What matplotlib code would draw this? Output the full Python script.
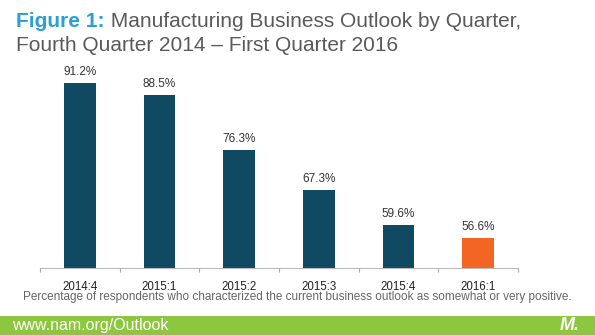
import matplotlib
matplotlib.use('Agg')
import matplotlib.pyplot as plt
from matplotlib.patches import Rectangle

plt.rcParams['font.family'] = ['Liberation Sans', 'DejaVu Sans']

# data
quarters = ['2014:4', '2015:1', '2015:2', '2015:3', '2015:4', '2016:1']
positive_pct = [91.2, 88.5, 76.3, 67.3, 59.6, 56.6]
bar_colors = ['#0f4a62'] * 5 + ['#f26522']

fig = plt.figure(figsize=(5.95, 3.35), dpi=100)
fig.patch.set_facecolor('white')

# bars
ax = fig.add_axes([40 / 595, 0.2, 478 / 595, 0.606])
x = range(len(quarters))
ax.bar(x, positive_pct, width=0.4, color=bar_colors)
for i, v in enumerate(positive_pct):
    ax.text(i, v + 1.1, '{:.1f}%'.format(v), ha='center', va='bottom', fontsize=8.5, color='#333333')

ax.set_xlim(-0.5, len(quarters) - 0.5)
ax.set_ylim(50, 95.2)
ax.set_xticks([i - 0.5 for i in range(len(quarters) + 1)], minor=False)
ax.set_xticklabels([])
ax.set_xticks(list(x), minor=True)
ax.set_xticklabels(quarters, minor=True, fontsize=8.3, color='#222222')
ax.tick_params(axis='x', which='major', length=3, color='#aaaaaa', direction='out')
ax.tick_params(axis='x', which='minor', length=0, pad=9)
ax.set_yticks([])
for s in ['top', 'right', 'left']:
    ax.spines[s].set_visible(False)
ax.spines['bottom'].set_color('#bbbbbb')
ax.spines['bottom'].set_linewidth(0.8)
ax.patch.set_alpha(0)

# title: blue bold lead-in followed by gray text
t1 = fig.text(0.027, 0.935, 'Figure 1:', fontsize=15, fontweight='bold', color='#2a9fd3', va='center')
ax.annotate(' Manufacturing Business Outlook by Quarter,', xy=(1, 0.5), xycoords=t1,
            fontsize=15, color='#5a5a5a', va='center', ha='left', annotation_clip=False)
fig.text(0.027, 0.865, 'Fourth Quarter 2014 \u2013 First Quarter 2016', fontsize=15, color='#5a5a5a', va='center')

# caption
fig.text(0.5, 0.113, 'Percentage of respondents who characterized the current business outlook as somewhat or very positive.',
         ha='center', va='center', fontsize=8.5, color='#666666', family=['Liberation Sans Narrow', 'Liberation Sans'])

# footer band
fig.patches.append(Rectangle((0, 0), 1, 19 / 335, transform=fig.transFigure, facecolor='#8dc63f',
                             edgecolor='none', zorder=0))
fig.text(0.02, 9.5 / 335, 'www.nam.org/Outlook', fontsize=11.5, color='white', va='center',
         family=['Liberation Sans Narrow', 'Liberation Sans'])
fig.text(0.975, 9.5 / 335, 'M.', fontsize=13, color='white', fontweight='bold', style='italic',
         ha='right', va='center')

plt.savefig('out.png', dpi=100, facecolor='white')
